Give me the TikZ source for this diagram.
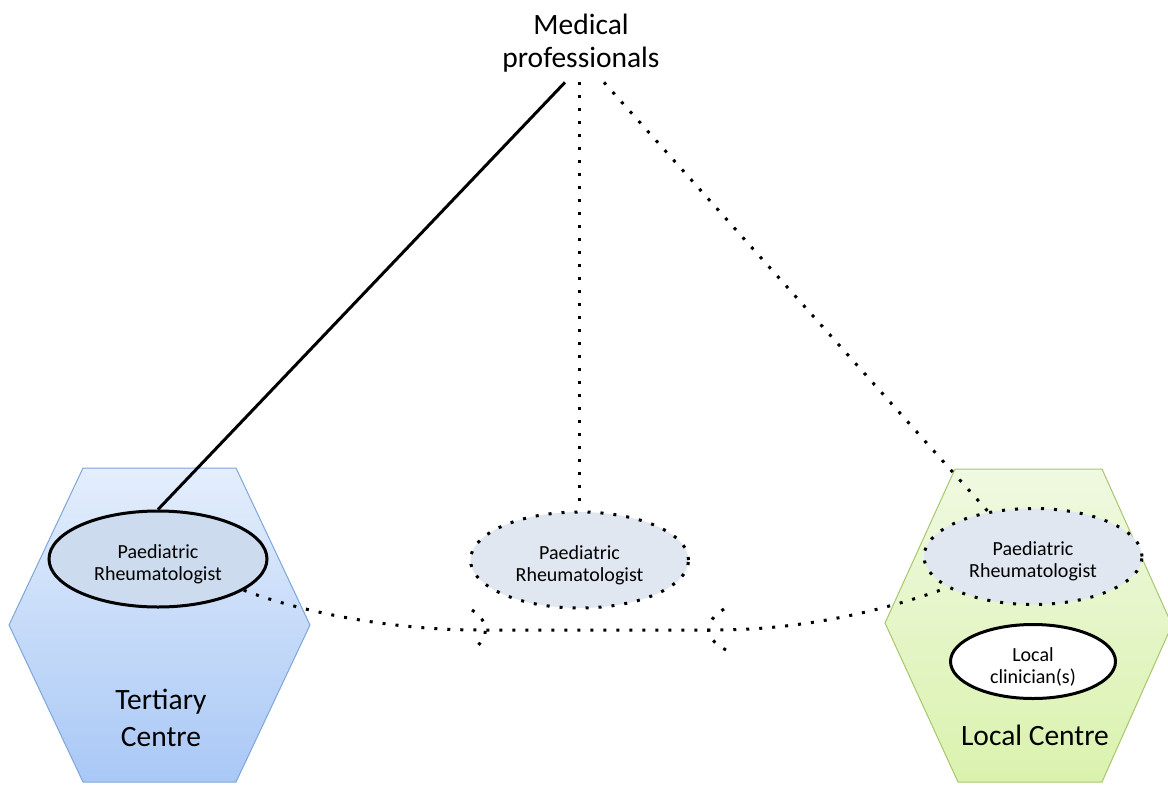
\documentclass[tikz,border=0pt]{standalone}
\usepackage{fontspec}
\setmainfont{Carlito}
\usetikzlibrary{shapes.geometric,calc}

\definecolor{tertTop}{HTML}{E4EEFC}
\definecolor{tertBot}{HTML}{A9C8F6}
\definecolor{tertEdge}{HTML}{7EA6D8}
\definecolor{locTop}{HTML}{F0F9E1}
\definecolor{locBot}{HTML}{DAF2AE}
\definecolor{locEdge}{HTML}{A8C66C}
\definecolor{roleFill}{HTML}{CCDCEE}
\definecolor{roleFillSoft}{HTML}{E0E7F1}

\tikzset{
  bigtext/.style={font=\fontsize{29.5}{33}\selectfont, align=center, inner sep=0pt},
  smalltext/.style={font=\fontsize{20}{22}\selectfont, align=center, inner sep=0pt},
  role/.style={ellipse, smalltext, minimum width=218pt, minimum height=96pt},
  solidrole/.style={role, draw=black, line width=3pt, fill=roleFill},
  dottedrole/.style={role, draw=black, line width=3pt, dash pattern=on 3pt off 10pt, fill=roleFillSoft},
  clinic/.style={ellipse, smalltext, draw=black, line width=3pt, fill=white,
    minimum width=165pt, minimum height=74pt},
  solidlink/.style={draw=black, line width=3pt},
  dottedlink/.style={draw=black, line width=3pt, dash pattern=on 3pt off 10pt},
}

\begin{document}
\begin{tikzpicture}[x=1pt,y=-1pt]
\useasboundingbox (0,0) rectangle (1168,785);
\clip (0,0) rectangle (1168,785);

% centre hexagons
\shade[top color=tertTop, bottom color=tertBot]
  (83,468) -- (236,468) -- (310,625) -- (236,782) -- (83,782) -- (9,625) -- cycle;
\draw[tertEdge, line width=1pt]
  (83,468) -- (236,468) -- (310,625) -- (236,782) -- (83,782) -- (9,625) -- cycle;
\shade[top color=locTop, bottom color=locBot]
  (955,469) -- (1102,469) -- (1172,625) -- (1102,782) -- (958,782) -- (885,623) -- cycle;
\draw[locEdge, line width=1pt]
  (955,469) -- (1102,469) -- (1172,625) -- (1102,782) -- (958,782) -- (885,623) -- cycle;

% people
\node[bigtext] (mp) at (581,43) {Medical\\professionals};
\node[solidrole] (lpr) at (158,559) {\rule{0pt}{24pt}Paediatric\\Rheumatologist};
\node[dottedrole] (mpr) at (579.5,560) {\rule{0pt}{24pt}Paediatric\\Rheumatologist};
\node[dottedrole] (rpr) at (1033,556.5) {\rule{0pt}{24pt}Paediatric\\Rheumatologist};
\node[clinic] (lc) at (1033,661.5) {\rule{0pt}{24pt}Local\\clinician(s)};

% centre names
\node[bigtext, font=\fontsize{29.5}{37}\selectfont] (tc) at (161,718) {Tertiary\\Centre};
\node[bigtext, anchor=base] (loc) at (1035,745) {Local Centre};

% links from the medical professionals
\coordinate (mpa) at ($(mp.south)+(-16,10)$);
\coordinate (mpb) at ($(mpr.north |- mp.south)+(0,10)$);
\coordinate (mpc) at ($(mp.south)+(23,10)$);
\draw[solidlink] (mpa) -- (lpr.north);
\draw[dottedlink] (mpb) -- (mpr.north);
\draw[dottedlink] (mpc) -- (rpr.135);

% broken link between the two rheumatologists
\coordinate (brkL) at (480,630);
\coordinate (brkR) at (715,630);
\draw[dottedlink] (lpr.-20) .. controls (290,608) and (380,630) .. (brkL)
  -- (brkR) .. controls (800,630) and (880,612) .. (rpr.200);
\draw[dottedlink] (472,610) .. controls (490,622) and (490,638) .. (472,650);
\draw[dottedlink] (724,609) .. controls (703,622) and (703,638) .. (726,650);
\end{tikzpicture}
\end{document}
